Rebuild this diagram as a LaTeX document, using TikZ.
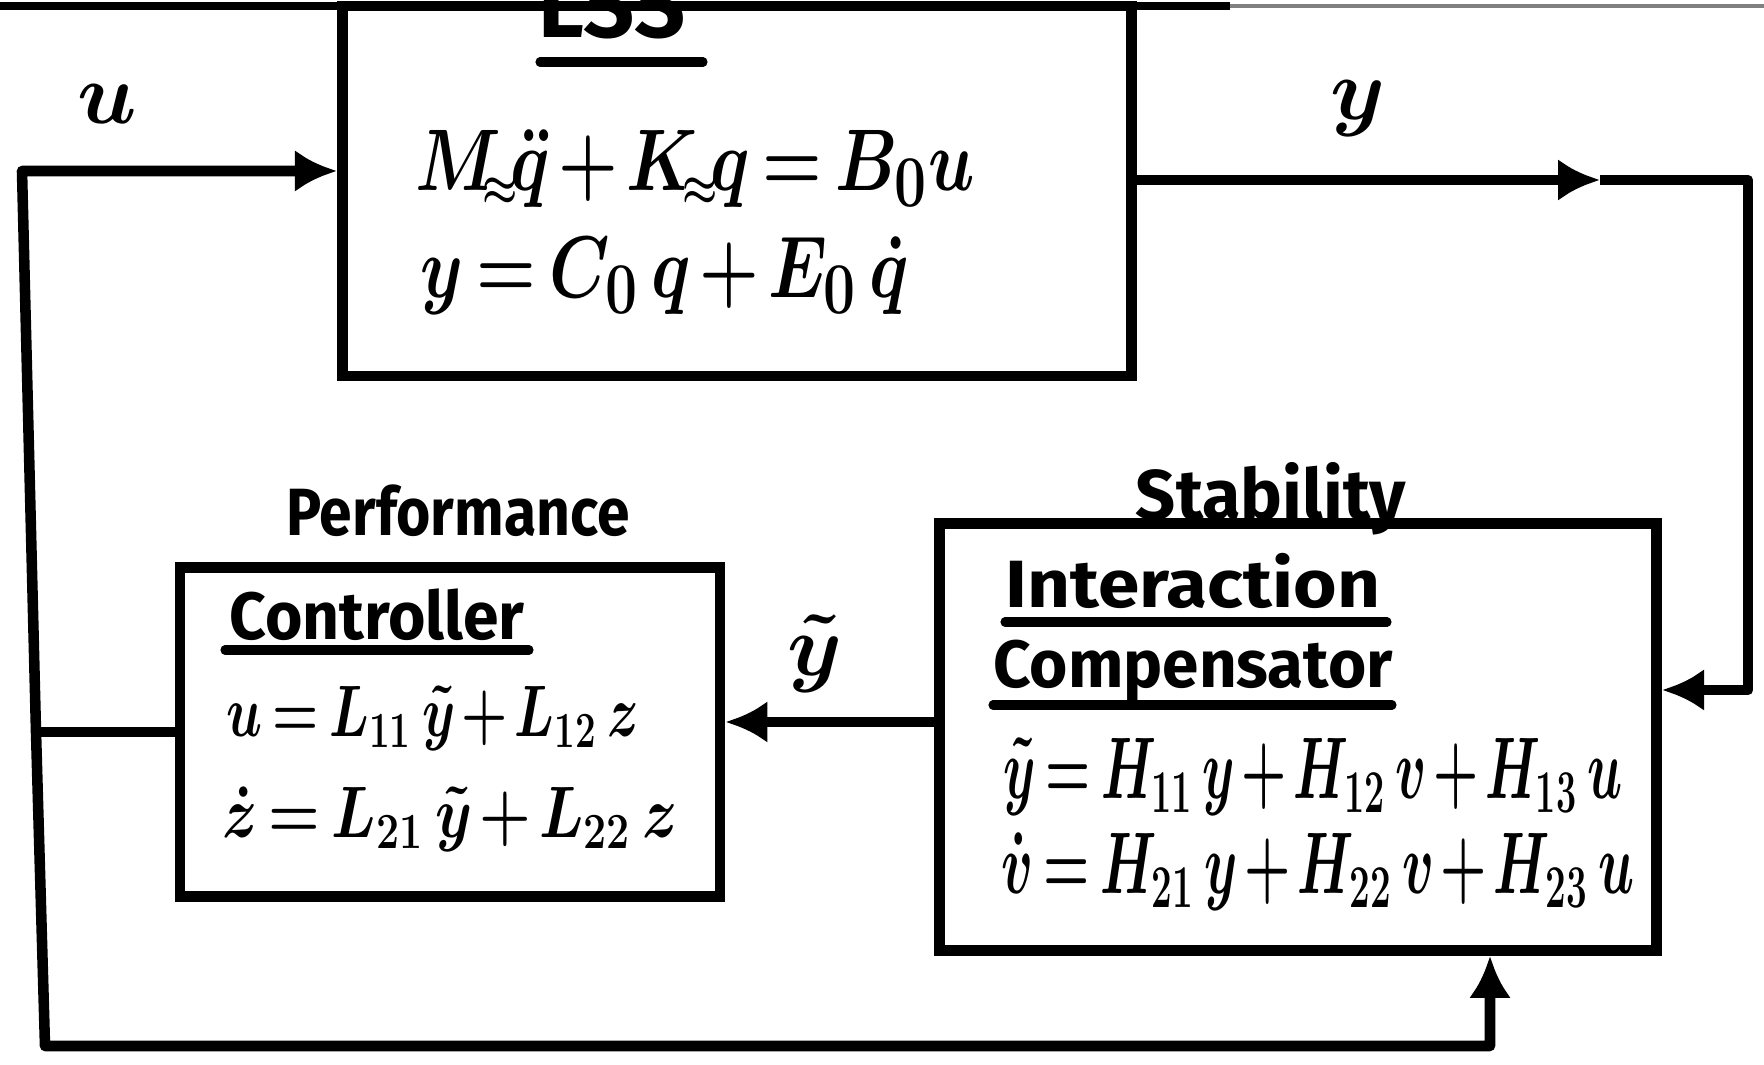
\documentclass[tikz,border=0pt]{standalone}
\usepackage{amsmath}
\usepackage{fontspec}
\newfontfamily\handfont{Fira Sans}
\usetikzlibrary{arrows.meta}
\newcommand{\hwx}[2]{\scalebox{#1}[1]{#2}}
\newcommand{\fitw}[2]{\resizebox{#1}{\height}{#2}}
\newcommand{\mtx}[1]{#1_{\mkern-3mu\scriptscriptstyle\approx}\mkern-2mu}
\begin{document}
\begin{tikzpicture}[x=0.01cm,y=-0.01cm,
  blk/.style={draw,line width=3pt,inner sep=0pt},
  wire/.style={line width=3pt,line join=round},
  tip/.style={-{Latex[length=4.2mm,width=4.2mm]}},
  ul/.style={line width=2.6pt,line cap=round},
  txt/.style={inner sep=0pt,anchor=base},
  word/.style={txt,font=\handfont\bfseries\fontsize{#1}{#1}\selectfont}]
\thickmuskip=3mu plus 1mu
\medmuskip=2mu plus 1mu
\useasboundingbox (0,0) rectangle (1764,1065);
% page edge at top
\draw[line width=2.5pt] (0,6) -- (1230,6);
\draw[line width=1pt,gray] (1230,6) -- (1764,6);
% blocks
\node[blk,minimum width=7.89cm,minimum height=3.70cm] (lss) at (737,191) {};
\node[blk,minimum width=5.40cm,minimum height=3.29cm] (ctrl) at (450,732) {};
\node[blk,minimum width=7.17cm,minimum height=4.27cm] (stab) at (1298,737) {};
% LSS texts
\node[word=26] (lsst) at (612,38) {\fitw{1.46cm}{LSS}};
\draw[ul] (540,62) -- (703,62);
\node[txt,font=\fontsize{28}{32}\selectfont\boldmath] (lsse1) at (695,191) {\hwx{0.78}{$\mtx{M}\ddot{q} + \mtx{K}q = B_0 u$}};
\node[txt,font=\fontsize{28}{32}\selectfont\boldmath] (lsse2) at (665,298) {\hwx{0.78}{$y = C_0\, q + E_0\, \dot{q}$}};
% signal labels
\node[txt,font=\fontsize{24}{28}\selectfont\boldmath] (ulab) at (107,124) {$u$};
\node[txt,font=\fontsize{30}{34}\selectfont\boldmath] (ylab) at (1358,120) {$y$};
\node[txt,font=\fontsize{30}{34}\selectfont\boldmath] (ytlab) at (815,676) {$\tilde{y}$};
% Controller
\node[word=19] (perf) at (458,536) {\fitw{3.43cm}{Performance}};
\node[word=19] (ctitle) at (377,640) {\fitw{2.95cm}{Controller}};
\draw[ul] (225,650) -- (529,650);
\node[txt,font=\fontsize{22}{26}\selectfont\boldmath] (ce1) at (433,737) {\hwx{0.725}{$u = L_{11}\, \tilde{y} + L_{12}\, z$}};
\node[txt,font=\fontsize{22}{26}\selectfont\boldmath] (ce2) at (450,838) {\hwx{0.81}{$\dot{z} = L_{21}\, \tilde{y} + L_{22}\, z$}};
% Stability
\node[word=20] (stt) at (1271,520) {\fitw{2.70cm}{Stability}};
\node[word=19] (it) at (1193,608) {\fitw{3.74cm}{Interaction}};
\draw[ul] (1005,622) -- (1387,622);
\node[word=19] (ct) at (1193,688) {\fitw{3.99cm}{Compensator}};
\draw[ul] (993,705) -- (1392,705);
\node[txt,font=\fontsize{24}{28}\selectfont\boldmath] (se1) at (1313,799) {\hwx{0.59}{$\tilde{y} = H_{11}\, y + H_{12}\, v + H_{13}\, u$}};
\node[txt,font=\fontsize{24}{28}\selectfont\boldmath] (se2) at (1318,894) {\hwx{0.605}{$\dot{v} = H_{21}\, y + H_{22}\, v + H_{23}\, u$}};
% connectors
\coordinate (J) at (36,732);
\coordinate (a1) at (22,171);
\coordinate (b1) at (45,1046);
\coordinate (b2) at (1490,1046);
\coordinate (c1) at (1600,180);
\coordinate (c2) at (1748,180);
\coordinate (c3) at (1748,690);
\coordinate (yt) at (830,722);
\draw[wire] (ctrl.west) -- (J);
\draw[wire,tip] (J) -- (a1) -- (lss.west |- a1);
\draw[wire,tip] (J) -- (b1) -- (b2) -- (stab.south -| b2);
\draw[wire,tip] (lss.east |- c1) -- (c1);
\draw[wire,tip] (c1) -- (c2) -- (c3) -- (stab.east |- c3);
\draw[wire,tip] (stab.west |- yt) -- (ctrl.east |- yt);
\end{tikzpicture}
\end{document}
